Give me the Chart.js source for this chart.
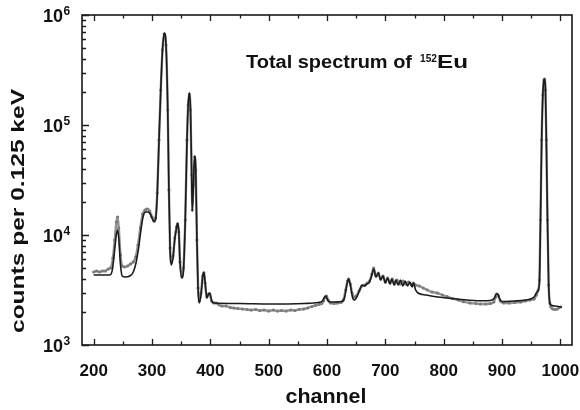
<!DOCTYPE html>
<html><head><meta charset="utf-8">
<script src="https://cdn.jsdelivr.net/npm/chart.js@4.4.1/dist/chart.umd.min.js"></script>
<style>html,body{margin:0;padding:0;background:#fff}#wrap{width:580px;height:410px}</style>
</head><body><div id="wrap"><canvas id="c" width="580" height="410"></canvas></div>
<script>
// ---------- data ----------
const simChannels = [200,228,232,236,239,241,243,246,249,254,262,268,273,277,281,285,289,293,297,300,303,306,309,312,315,318,321,324,327,329,331,333,336,339,342,344,346,348,351,354,357,360,362,364,366,368,369,371,373,375,377,379,381,384,387,389,391,394,397,399,402,406,450,500,560,585,592,596,598,601,605,625,630,634,637,640,644,647,652,656,660,665,668,672,676,680,684,688,692,696,700,704,708,711,715,718,722,726,730,734,738,742,746,748,752,756,770,790,806,830,863,880,887,890,893,896,900,920,940,955,960,964,966,968,970,972,973,974.5,976,978,980,982,984,990,1003];
const simCounts = [4330,4330,4810,7300,10200,11100,9390,5340,4240,4150,4240,4610,5690,7620,11100,14890,16190,16190,15520,14280,13130,13690,23100,73050,208000,480800,686000,533700,136900,25650,7300,5340,6180,9010,11580,12850,10650,5690,4065,4810,13690,73050,152000,195400,136900,35110,16530,28480,52270,38990,9010,3162,2409,2848,4240,4610,3739,2674,2909,2970,2566,2409,2384,2359,2384,2434,2512,2731,2790,2566,2460,2486,2674,3512,3981,3512,2674,2566,2790,3162,3512,3438,3585,3661,4150,4909,4150,4512,3899,4240,3661,4065,3585,3981,3512,3899,3512,3899,3438,3818,3438,3739,3367,3661,3162,2970,2848,2731,2674,2593,2528,2541,2674,2909,2909,2620,2486,2512,2566,2731,3033,3512,13690,73050,187400,256600,262000,208000,73050,13690,3512,2409,2310,2262,2215];

const expChannels = [200,205,210,215,220,225,229,233,236,239,241,243,246,249,253,258,263,268,272,276,280,284,288,292,296,300,303,306,309,312,315,318,321,324,327,329,331,333,336,339,342,344,346,348,351,354,357,360,362,364,366,368,369,371,373,375,377,379,381,384,387,389,391,394,397,399,402,406,410,415,420,427,434,440,447,455,463,470,478,485,492,500,508,515,522,530,538,545,552,560,567,574,580,586,591,594,597,599,602,606,612,618,624,628,632,635,637,640,643,646,650,655,660,665,669,673,677,680,684,688,692,696,700,704,708,712,716,720,725,730,735,740,745,748,752,758,765,772,780,789,798,806,815,825,834,845,855,863,872,880,886,889,891,894,897,903,912,922,932,940,948,955,959,962,964,966,968,970,972,973,974.5,976,978,980,982,984,987,991,995,1000];
const expCounts = [4610,4707,4610,4707,4707,4909,5012,6180,9010,13130,14580,11580,6579,5227,5117,5227,5452,5690,6310,8111,11580,15520,16880,17230,16530,14580,13690,14280,24080,73050,208000,480800,672000,533700,136900,25650,7620,5690,6443,9390,11830,12590,10650,5690,4240,5012,13690,73050,152000,191300,136900,35110,16880,28480,51170,38990,9010,3296,2512,2970,4240,4512,3661,2731,2909,2909,2512,2409,2409,2310,2262,2262,2193,2169,2146,2124,2102,2080,2102,2058,2080,2037,2080,2037,2058,2037,2080,2058,2102,2124,2169,2238,2286,2335,2384,2512,2731,2790,2566,2409,2384,2409,2434,2566,3162,3818,3981,3585,2970,2731,2790,3097,3438,3512,3661,3818,4419,5012,4240,4512,3981,4240,3739,4065,3661,3981,3585,3899,3585,3818,3585,3739,3512,3661,3512,3438,3296,3162,3033,2970,2848,2748,2647,2566,2475,2409,2384,2359,2359,2384,2460,2731,2909,2790,2512,2409,2409,2434,2460,2512,2566,2620,2848,3162,3899,13690,73050,187400,256600,262000,208000,73050,13690,3512,2409,2215,2124,2102,2124,2215];

const xTickValues = [200,300,400,500,600,700,800,900,1000];
const xMinorTickValues = [250,350,450,550,650,750,850,950];
const yTickExponents = [3,4,5,6];
const xAxisTitle = 'channel';
const yAxisTitle = 'counts per 0.125 keV';
const titleMain = 'Total spectrum of';
const titleSup = '152';
const titleTail = 'Eu';

// ---------- drawing ----------
const FONT = '"Liberation Sans", Arial, Helvetica, sans-serif';

function fitText(ctx, text, x, y, width, size, align) {
  ctx.font = 'bold ' + size + 'px ' + FONT;
  const m = ctx.measureText(text).width;
  const s = width / m;
  ctx.save();
  ctx.translate(x, y);
  ctx.scale(s, 1);
  ctx.textAlign = align || 'left';
  ctx.fillText(text, 0, 0);
  ctx.restore();
}

const framePlugin = {
  id: 'frame',
  afterDraw(chart) {
    const ctx = chart.ctx;
    const a = chart.chartArea;
    const xs = chart.scales.x, ys = chart.scales.y;
    ctx.save();
    ctx.strokeStyle = '#1a1a1a';
    ctx.fillStyle = '#111';
    ctx.lineWidth = 1.6;
    ctx.strokeRect(a.left, a.top, a.right - a.left, a.bottom - a.top);
    ctx.lineWidth = 1.3;
    ctx.beginPath();
    const xt = (v, len) => {
      const px = Math.round(xs.getPixelForValue(v)) + 0.5;
      ctx.moveTo(px, a.bottom); ctx.lineTo(px, a.bottom - len);
      ctx.moveTo(px, a.top); ctx.lineTo(px, a.top + len);
    };
    xTickValues.forEach(v => xt(v, 6));
    xMinorTickValues.forEach(v => xt(v, 3.5));
    yTickExponents.forEach((e, i) => {
      const base = Math.pow(10, e);
      const py = Math.round(ys.getPixelForValue(base)) + 0.5;
      ctx.moveTo(a.left, py); ctx.lineTo(a.left + 7, py);
      if (i < yTickExponents.length - 1) {
        for (let k = 2; k <= 9; k++) {
          const q = Math.round(ys.getPixelForValue(base * k)) + 0.5;
          ctx.moveTo(a.left, q); ctx.lineTo(a.left + 4, q);
        }
      }
    });
    ctx.stroke();

    // y tick labels 10^n
    yTickExponents.forEach(e => {
      const py = ys.getPixelForValue(Math.pow(10, e));
      ctx.font = 'bold 18px ' + FONT;
      ctx.textAlign = 'right';
      ctx.textBaseline = 'alphabetic';
      ctx.fillText('10', 63, py + 7);
      ctx.font = 'bold 12px ' + FONT;
      ctx.textAlign = 'left';
      ctx.fillText(String(e), 63.5, py - 0.5);
    });

    ctx.textBaseline = 'alphabetic';
    // x title
    fitText(ctx, xAxisTitle, 326, 403, 81, 20, 'center');
    // y title
    ctx.save();
    ctx.translate(24, 211);
    ctx.rotate(-Math.PI / 2);
    fitText(ctx, yAxisTitle, 0, 0, 244, 18, 'center');
    ctx.restore();
    // chart title
    fitText(ctx, titleMain, 246, 68, 166, 18, 'left');
    fitText(ctx, titleSup, 420, 62, 17, 11, 'left');
    fitText(ctx, titleTail, 437, 68, 31, 18, 'left');
    ctx.restore();
  }
};

const ctx = document.getElementById('c').getContext('2d');
new Chart(ctx, {
  type: 'line',
  data: {
    datasets: [
      {
        label: 'simulation',
        data: simChannels.map((x, i) => ({ x: x, y: simCounts[i] })),
        borderColor: '#1b1b1b',
        borderWidth: 1.6,
        pointRadius: 0,
        cubicInterpolationMode: 'monotone',
        order: 0
      },
      {
        label: 'experiment',
        data: expChannels.map((x, i) => ({ x: x, y: expCounts[i] })),
        borderColor: 'rgba(135,135,135,0.9)',
        borderWidth: 2.4,
        pointRadius: 1.6,
        pointBackgroundColor: '#7c7c7c',
        pointBorderWidth: 0,
        cubicInterpolationMode: 'monotone',
        order: 1
      }
    ]
  },
  options: {
    responsive: false,
    animation: false,
    layout: { padding: { top: 15, right: 8, left: 0, bottom: 0 } },
    plugins: { legend: { display: false }, tooltip: { enabled: false } },
    scales: {
      x: {
        type: 'linear', min: 180, max: 1020,
        afterBuildTicks: s => { s.ticks = xTickValues.map(v => ({ value: v })); },
        afterFit: s => { s.height = 65; s.paddingLeft = 0; s.paddingRight = 0; },
        grid: { display: false, drawTicks: false },
        border: { display: false },
        ticks: { callback: v => String(v), font: { family: FONT, weight: 'bold', size: 17 }, color: '#111', padding: 16, maxRotation: 0, autoSkip: false }
      },
      y: {
        type: 'logarithmic', min: 1000, max: 1000000,
        afterFit: s => { s.width = 82; s.paddingTop = 0; s.paddingBottom = 0; },
        grid: { display: false, drawTicks: false },
        border: { display: false },
        ticks: { display: false }
      }
    }
  },
  plugins: [framePlugin]
});
</script>
</body></html>
